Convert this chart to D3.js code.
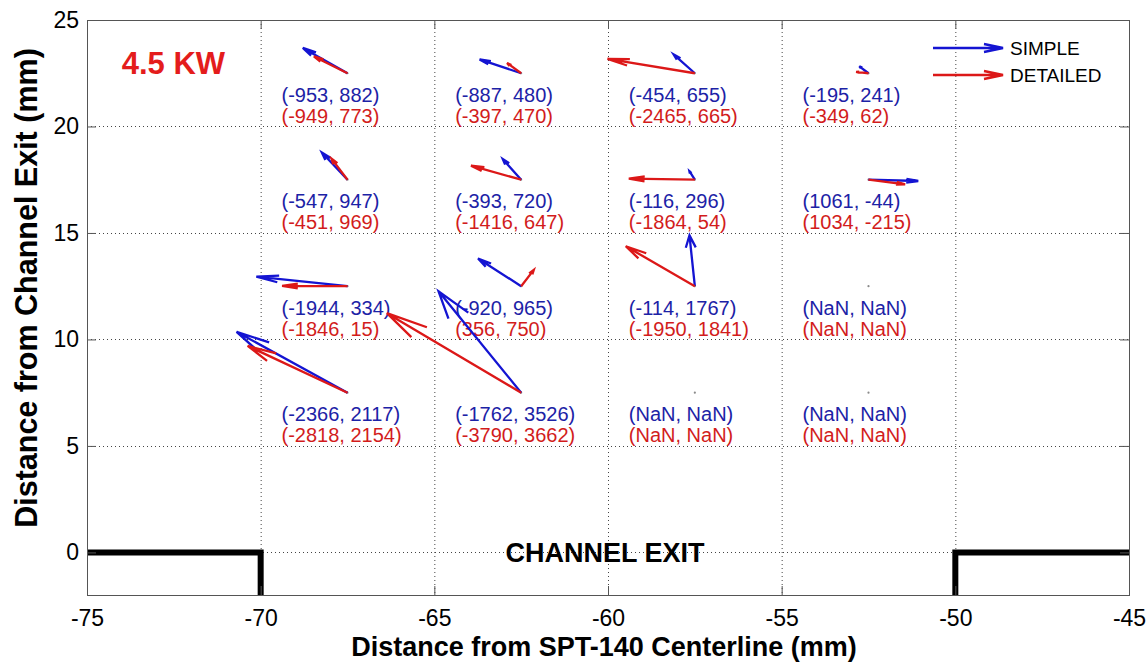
<!DOCTYPE html>
<html>
<head>
<meta charset="utf-8">
<script src="https://cdn.jsdelivr.net/npm/d3@7"></script>
<style>
  body { margin: 0; background: #fff; }
  svg text { font-family: "Liberation Sans", Arial, Helvetica, sans-serif; }
</style>
</head>
<body>
<svg id="chart" width="1148" height="665"></svg>
<script>
// Measurement grid (mm)
const gridX = [-67.5, -62.5, -57.5, -52.5];
const gridY = [22.5, 17.5, 12.5, 7.5];

// Velocity components; rows follow gridY (top to bottom), columns follow gridX
const simpleU = [
  [-953, -887, -454, -195],
  [-547, -393, -116, 1061],
  [-1944, -920, -114, NaN],
  [-2366, -1762, NaN, NaN]
];
const simpleV = [
  [882, 480, 655, 241],
  [947, 720, 296, -44],
  [334, 965, 1767, NaN],
  [2117, 3526, NaN, NaN]
];
const detailedU = [
  [-949, -397, -2465, -349],
  [-451, -1416, -1864, 1034],
  [-1846, 356, -1950, NaN],
  [-2818, -3790, NaN, NaN]
];
const detailedV = [
  [773, 470, 665, 62],
  [969, 647, 54, -215],
  [15, 750, 1841, NaN],
  [2154, 3662, NaN, NaN]
];

const seriesNames = ["SIMPLE", "DETAILED"];
const xTicks = [-75, -70, -65, -60, -55, -50, -45];
const yTicks = [0, 5, 10, 15, 20, 25];
const powerLabel = "4.5 KW";
const exitLabel = "CHANNEL EXIT";
const xTitle = "Distance from SPT-140 Centerline (mm)";
const yTitle = "Distance from Channel Exit (mm)";

// Channel wall outline (mm): left and right walls
const leftWall = [[-75, 0], [-70, 0], [-70, -2]];
const rightWall = [[-45, 0], [-50, 0], [-50, -2]];

// ---------------------------------------------------------------
const svg = d3.select("#chart");
const M = { left: 87, right: 1129, top: 20, bottom: 595 };

const x = d3.scaleLinear().domain([-75, -45]).range([M.left, M.right]);
const y = d3.scaleLinear().domain([-2, 25]).range([M.bottom, M.top]);

const colors = {
  simple: "#1414d2", simpleText: "#1c22a6",
  detailed: "#dc1818", detailedText: "#d21c1c"
};

// quiver autoscale factors (mm per velocity unit) and arrowhead shape
const quiverScale = { simple: 0.00135, detailed: 0.00102 };
const headAlpha = 0.24, headBeta = 0.25;

// plain hyphen-minus tick labels
const tickFmt = d => String(d);

// grid (dotted)
const grid = svg.append("g").attr("stroke", "#444").attr("stroke-width", 1)
  .attr("stroke-dasharray", "1,3");
grid.selectAll("line.gx").data(xTicks.slice(1, -1)).join("line")
  .attr("x1", d => x(d) + 0.5).attr("x2", d => x(d) + 0.5)
  .attr("y1", M.top).attr("y2", M.bottom);
grid.selectAll("line.gy").data(yTicks.slice(0, -1)).join("line")
  .attr("y1", d => Math.round(y(d)) + 0.5).attr("y2", d => Math.round(y(d)) + 0.5)
  .attr("x1", M.left).attr("x2", M.right);

// channel walls
const wallLine = d3.line().x(d => x(d[0])).y(d => y(d[1]));
svg.append("g").selectAll("path").data([leftWall, rightWall]).join("path")
  .attr("d", wallLine).attr("fill", "none").attr("stroke", "#000")
  .attr("stroke-width", 6).attr("stroke-linejoin", "miter");

// grid-point markers
const points = [];
gridY.forEach((gy, r) => gridX.forEach((gx, c) => points.push({ gx, gy, r, c })));
svg.append("g").selectAll("circle").data(points).join("circle")
  .attr("cx", d => x(d.gx)).attr("cy", d => y(d.gy)).attr("r", 1.1)
  .attr("fill", "#8a8a8a");

// value labels
function fmt(u, v) {
  const f = n => (Number.isNaN(n) ? "NaN" : String(n));
  return "(" + f(u) + ", " + f(v) + ")";
}
const labels = svg.append("g").attr("font-size", 20);
labels.selectAll("text.s").data(points).join("text")
  .attr("x", d => x(d.gx - 1.9)).attr("y", d => y(d.gy - 1) + 7)
  .attr("fill", colors.simpleText)
  .text(d => fmt(simpleU[d.r][d.c], simpleV[d.r][d.c]));
labels.selectAll("text.d").data(points).join("text")
  .attr("x", d => x(d.gx - 1.9)).attr("y", d => y(d.gy - 2) + 7)
  .attr("fill", colors.detailedText)
  .text(d => fmt(detailedU[d.r][d.c], detailedV[d.r][d.c]));

// quiver arrows computed in data units, as quiver does
function arrowPath(X, Y, u, v, k) {
  const su = u * k, sv = v * k;
  const tx = X + su, ty = Y + sv;
  const ax = tx - headAlpha * (su + headBeta * sv), ay = ty - headAlpha * (sv - headBeta * su);
  const bx = tx - headAlpha * (su - headBeta * sv), by = ty - headAlpha * (sv + headBeta * su);
  return `M${x(X)},${y(Y)}L${x(tx)},${y(ty)}` +
         `M${x(ax)},${y(ay)}L${x(tx)},${y(ty)}L${x(bx)},${y(by)}`;
}
function drawQuiver(U, V, k, color) {
  const valid = points.filter(d => !Number.isNaN(U[d.r][d.c]) && !Number.isNaN(V[d.r][d.c]));
  svg.append("g").selectAll("path").data(valid).join("path")
    .attr("d", d => arrowPath(d.gx, d.gy, U[d.r][d.c], V[d.r][d.c], k))
    .attr("fill", "none").attr("stroke", color).attr("stroke-width", 2.3)
    .attr("stroke-linejoin", "miter").attr("stroke-linecap", "butt");
}
drawQuiver(simpleU, simpleV, quiverScale.simple, colors.simple);
drawQuiver(detailedU, detailedV, quiverScale.detailed, colors.detailed);

// annotations
svg.append("text").attr("x", x(-74)).attr("y", y(23) + 11)
  .attr("font-size", 31).attr("font-weight", "bold").attr("fill", "#e41c1c")
  .text(powerLabel);
svg.append("text").attr("x", x(-60) - 3).attr("y", y(0) + 10)
  .attr("text-anchor", "middle").attr("font-size", 27).attr("font-weight", "bold")
  .attr("fill", "#000").text(exitLabel);

// axes: inward ticks on all four sides
const tickLen = 9;
const axB = svg.append("g").attr("transform", `translate(0,${M.bottom})`)
  .call(d3.axisBottom(x).tickValues(xTicks).tickFormat(tickFmt)
    .tickSizeInner(-tickLen).tickSizeOuter(0).tickPadding(15));
const axT = svg.append("g").attr("transform", `translate(0,${M.top})`)
  .call(d3.axisTop(x).tickValues(xTicks).tickFormat("").tickSizeInner(-tickLen).tickSizeOuter(0));
const axL = svg.append("g").attr("transform", `translate(${M.left},0)`)
  .call(d3.axisLeft(y).tickValues(yTicks).tickFormat(tickFmt)
    .tickSizeInner(-tickLen).tickSizeOuter(0).tickPadding(8));
const axR = svg.append("g").attr("transform", `translate(${M.right},0)`)
  .call(d3.axisRight(y).tickValues(yTicks).tickFormat("").tickSizeInner(-tickLen).tickSizeOuter(0));
[axB, axT, axL, axR].forEach(a => {
  a.select(".domain").remove();
  a.selectAll(".tick line").attr("stroke", "#555");
  a.selectAll("text").attr("font-size", 23).attr("fill", "#000")
    .attr("font-family", '"Liberation Sans", Arial, sans-serif');
});

// axes box
svg.append("rect").attr("x", M.left + 0.5).attr("y", M.top + 0.5)
  .attr("width", M.right - M.left).attr("height", M.bottom - M.top)
  .attr("fill", "none").attr("stroke", "#555").attr("stroke-width", 1);

// axis titles
svg.append("text").attr("x", (M.left + M.right) / 2 - 4).attr("y", 656)
  .attr("text-anchor", "middle").attr("font-size", 27).attr("font-weight", "bold")
  .text(xTitle);
svg.append("text").attr("transform", "translate(37,288) rotate(-90)")
  .attr("text-anchor", "middle").attr("font-size", 30.5).attr("font-weight", "bold")
  .text(yTitle);

// legend
const legend = svg.append("g").attr("transform", "translate(933,0)");
const legendRows = [
  { name: seriesNames[0], color: colors.simple, yy: 48 },
  { name: seriesNames[1], color: colors.detailed, yy: 75 }
];
const legendLen = 70, legendHead = 19, legendHalf = 4;
legendRows.forEach(rw => {
  legend.append("path")
    .attr("d", `M0,${rw.yy}L${legendLen},${rw.yy}M${legendLen - legendHead},${rw.yy - legendHalf}` +
               `L${legendLen},${rw.yy}L${legendLen - legendHead},${rw.yy + legendHalf}`)
    .attr("fill", "none").attr("stroke", rw.color).attr("stroke-width", 2.3);
  legend.append("text").attr("x", legendLen + 7).attr("y", rw.yy + 7)
    .attr("font-size", 19).attr("fill", "#000").text(rw.name);
});
</script>
</body>
</html>
